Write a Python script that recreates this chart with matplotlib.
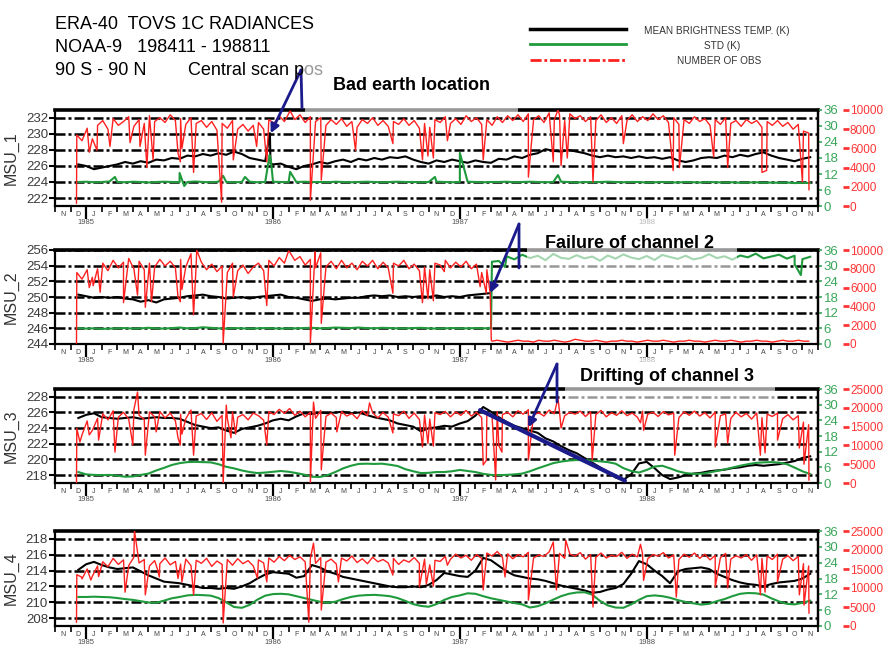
import numpy as np
import matplotlib
matplotlib.use('agg')
import matplotlib.pyplot as plt
from matplotlib.patches import Rectangle
from matplotlib.lines import Line2D

plt.rcParams['font.family'] = ['Liberation Sans', 'DejaVu Sans']

# time axis: months since 1 Nov 1984
MONTH_LETTERS = ['J', 'F', 'M', 'A', 'M', 'J', 'J', 'A', 'S', 'O', 'N', 'D']
YEARS = ['1985', '1986', '1987', '1988']
YEAR_POS = [2, 14, 26, 38]
N_MONTHS = 49

CHANNELS = ['MSU_1', 'MSU_2', 'MSU_3', 'MSU_4']
T_LIMS = [(221, 233), (244, 256), (217, 229), (207, 219)]
T_TICKS = [[222, 224, 226, 228, 230, 232], [244, 246, 248, 250, 252, 254, 256],
           [218, 220, 222, 224, 226, 228], [208, 210, 212, 214, 216, 218]]
STD_TICKS = [0, 6, 12, 18, 24, 30, 36]
OBS_MAX = [10000, 10000, 25000, 25000]
OBS_STEP = [2000, 2000, 5000, 5000]

# mean brightness temperature (K), half-monthly from month 1.5
bt1 = [226.2, 226.0, 225.6, 225.8, 226.0, 226.2, 226.5, 226.3, 226.6, 226.4,
       226.8, 226.7, 227.0, 226.9, 227.3, 227.2, 227.5, 227.3, 227.6, 227.4,
       227.8, 227.5, 227.0, 226.8, 226.6, 226.2, 226.3, 225.9, 225.6, 226.0,
       226.2, 226.5, 226.3, 226.6, 226.8, 226.5, 226.9, 226.7, 227.0, 226.8,
       227.1, 227.0, 227.2, 226.8, 226.5, 226.3, 226.7, 226.5, 226.8, 226.6,
       226.4, 226.7, 226.5, 226.4, 226.9, 226.8, 227.2, 227.0, 227.4, 227.6,
       228.1, 227.9, 227.8, 228.0, 227.8, 227.6, 227.3, 227.1, 227.3, 227.1,
       227.2, 227.0, 227.2, 227.0, 227.1, 226.9, 227.1, 226.7, 226.5, 226.7,
       227.0, 227.1, 227.0, 227.3, 227.1, 227.4, 227.2, 227.5, 227.7, 227.3,
       227.0, 226.8, 226.6, 226.9, 227.1]
bt2 = [250.3, 250.1, 249.9, 250.0, 249.9, 250.0, 249.8, 249.7, 249.4, 249.6,
       249.3, 249.7, 249.8, 249.9, 250.1, 250.2, 250.3, 250.1, 250.0, 249.8,
       249.9, 250.0, 249.8, 250.0, 250.1, 250.2, 250.3, 250.0, 249.9, 249.7,
       249.5, 249.7, 249.8, 249.7, 249.8, 249.9, 249.9, 250.1, 250.2, 250.1,
       250.2, 250.0, 250.1, 250.0, 250.1, 250.0, 250.2, 250.0, 250.1, 250.0,
       250.2, 250.3, 250.4, 250.5]
bt3 = [225.3, 225.7, 225.9, 225.4, 225.3, 225.2, 225.3, 225.4, 225.2, 225.3,
       225.4, 225.3, 225.3, 225.2, 224.8, 224.4, 224.2, 224.0, 224.1, 223.7,
       223.4, 223.9, 224.1, 224.3, 224.6, 225.0, 225.2, 225.0, 225.5, 225.9,
       225.8, 226.0, 225.9, 226.0, 226.1, 225.9, 226.0, 225.7, 225.4, 225.2,
       225.0, 224.6, 224.4, 224.2, 223.6, 224.0, 224.1, 224.3, 224.2, 224.6,
       224.9, 225.6, 226.7, 226.1, 225.4, 224.8, 224.3, 224.0, 223.7, 223.4,
       222.7, 222.3, 221.7, 221.2, 220.8, 220.2, 219.6, 219.0, 218.4, 217.7,
       217.4, 218.1, 219.5, 219.7, 218.9, 218.0, 217.5, 217.7, 218.0, 218.2,
       218.3, 218.5, 218.6, 218.7, 218.9, 219.0, 219.2, 219.3, 219.2, 219.3,
       219.4, 219.6, 219.8, 220.2, 220.4]
bt4 = [214.1, 214.8, 215.1, 214.7, 214.4, 214.2, 214.3, 214.4, 213.9, 213.4,
       213.0, 212.6, 212.5, 212.4, 212.2, 212.0, 211.8, 211.8, 211.7, 211.8,
       211.7, 212.0, 212.4, 213.0, 213.5, 213.8, 213.7, 213.6, 213.1, 213.3,
       214.7, 214.4, 213.9, 213.6, 213.2, 213.0, 212.8, 212.6, 212.4, 212.2,
       212.0, 211.9, 211.9, 212.0, 211.9, 212.2, 212.8, 213.7, 213.5, 213.3,
       213.2, 214.0, 215.6, 215.3, 214.6, 213.9, 213.4, 213.2, 213.0, 212.9,
       212.7, 212.4, 212.1, 211.9, 211.7, 211.5, 211.2, 211.3, 211.6, 211.8,
       212.3, 213.6, 215.2, 214.8, 214.0, 213.3, 212.4, 213.9, 214.2, 214.3,
       214.4, 214.2, 213.6, 213.2, 212.8, 212.5, 212.3, 212.2, 212.0, 212.3,
       212.5, 212.6, 212.7, 213.0, 213.6]

# std (K), half-monthly from month 1.5
std1 = [9.0, 9.1, 8.9, 9.0, 9.2, 9.0, 8.9, 9.1, 9.0, 8.8,
        9.0, 9.1, 9.0, 8.9, 9.0, 9.2, 9.0, 8.9, 9.1, 9.0,
        8.9, 9.0, 9.1, 8.9, 9.0, 9.1, 9.0, 8.9, 9.0, 9.1,
        9.0, 9.0, 8.9, 9.1, 9.0, 8.9, 9.0, 9.1, 9.0, 8.9,
        9.0, 9.1, 9.0, 9.0, 8.9, 9.0, 9.1, 9.0, 8.9, 9.0,
        9.1, 9.0, 8.9, 9.0, 9.0, 9.1, 8.9, 9.0, 9.1, 9.0,
        8.9, 9.0, 9.1, 9.0, 8.8, 9.0, 8.9, 9.0, 9.1, 9.0,
        8.9, 9.0, 9.0, 8.8, 8.9, 9.0, 8.9, 8.8, 9.0, 8.9,
        8.8, 9.0, 8.9, 8.8, 8.9, 8.7, 8.8, 8.9, 8.7, 8.8,
        8.7, 8.8, 8.6, 8.7, 8.6]
std2 = [6.1, 5.9, 6.0, 5.8, 5.9, 6.0, 6.1, 5.9, 6.0, 6.2,
        6.0, 5.9, 6.1, 6.3, 6.0, 6.1, 6.4, 6.2, 6.0, 5.9,
        6.1, 6.0, 5.9, 6.0, 6.1, 6.0, 5.9, 6.0, 6.0, 6.1,
        6.2, 6.0, 6.1, 6.3, 6.2, 6.1, 6.3, 6.1, 6.0, 6.2,
        6.1, 6.0, 6.0, 6.1, 6.2, 6.0, 5.9, 6.0, 6.1, 6.0,
        6.0, 6.1, 6.0, 6.1,
        31.8, 33.6, 32.4, 34.2, 32.9, 33.8, 32.1, 34.5, 33.0, 32.6,
        34.0, 32.8, 33.5, 31.9, 33.9, 32.7, 34.3, 33.1, 32.5, 33.7,
        32.2, 34.1, 33.3, 32.6, 33.8, 32.4, 33.0, 34.4, 32.9, 33.6,
        32.3, 33.9, 33.2, 34.6, 32.8, 33.5, 34.2, 32.7, 33.8, 32.5,
        33.4]
std3 = [4.2, 3.3, 3.1, 3.0, 3.1, 2.8, 2.4, 2.5, 3.1, 3.6,
        4.8, 5.8, 6.9, 7.6, 8.0, 8.1, 8.0, 7.9, 7.2, 6.2,
        5.6, 4.8, 4.2, 3.8, 4.0, 4.3, 4.6, 4.3, 3.8, 3.2,
        2.4, 2.3, 3.0, 4.2, 5.6, 6.6, 7.3, 7.4, 7.3, 7.4,
        7.0, 6.5, 5.3, 4.5, 3.8, 3.9, 4.2, 4.2, 4.5, 5.0,
        4.6, 4.2, 3.5, 3.1, 3.0, 3.1, 3.3, 3.6, 4.5, 5.6,
        6.6, 7.6, 8.2, 8.6, 8.8, 8.7, 8.6, 8.3, 8.0, 7.4,
        5.7, 4.6, 4.0, 5.0, 6.3, 6.6, 5.6, 4.5, 3.8, 3.5,
        3.6, 4.0, 4.6, 5.2, 5.9, 6.6, 7.2, 7.7, 7.9, 8.0,
        7.8, 7.2, 5.9, 4.5, 3.4]
std4 = [11.0, 11.0, 11.1, 11.0, 10.9, 10.6, 10.2, 9.9, 9.4, 8.9,
        8.8, 9.6, 10.5, 11.0, 11.6, 11.8, 11.7, 11.5, 10.6, 9.0,
        7.2, 6.9, 8.0, 10.0, 11.5, 12.1, 12.2, 12.0, 11.3, 10.6,
        9.9, 9.2, 8.8, 9.2, 10.2, 11.0, 11.5, 11.7, 11.8, 11.6,
        11.3, 10.6, 9.5, 8.3, 7.6, 7.3, 8.3, 9.9, 11.0, 11.6,
        12.4, 12.2, 11.3, 10.5, 9.9, 9.3, 8.7, 8.2, 7.0, 7.5,
        8.6, 10.0, 11.3, 12.2, 12.7, 12.8, 11.9, 9.5, 7.8, 7.0,
        6.9, 8.2, 9.9, 11.3, 11.6, 11.3, 10.7, 9.8, 9.1, 8.6,
        8.1, 8.4, 9.4, 10.2, 11.3, 12.2, 12.5, 12.4, 11.9, 10.5,
        9.3, 8.4, 8.2, 8.8, 9.6]

# number of obs (thousands), every third of a month from month 1.4
obs1 = [7.4, 6.8, 8.1, 7.0, 8.4, 8.9, 8.0, 9.1, 8.4, 8.8,
        9.3, 8.3, 9.0, 8.6, 9.4, 8.8, 9.2, 8.7, 9.5, 8.9,
        9.1, 8.5, 9.2, 8.6, 8.9, 8.2, 8.8, 7.9, 8.6, 8.1,
        8.9, 8.0, 8.5, 7.8, 8.4, 8.7, 8.0, 9.0, 8.6, 9.4,
        8.8, 9.8, 9.0, 9.5, 8.7, 9.3, 8.8, 9.2, 8.4, 9.0,
        8.5, 9.1, 8.3, 8.8, 8.2, 9.0, 8.6, 9.2, 8.4, 8.9,
        8.3, 8.8, 8.5, 9.1, 8.4, 8.9, 8.1, 8.6, 8.2, 9.0,
        8.7, 9.3, 8.6, 9.1, 8.5, 9.4, 8.8, 9.2, 8.5, 9.0,
        8.4, 9.3, 8.7, 9.4, 8.9, 9.5, 8.8, 9.6, 9.0, 9.4,
        8.7, 9.7, 9.0, 9.5, 8.9, 9.6, 9.1, 9.4, 8.8, 9.3,
        8.9, 9.5, 8.7, 9.2, 8.6, 9.4, 8.9, 9.5, 8.8, 9.3,
        8.9, 9.6, 9.0, 9.4, 8.7, 9.2, 8.5, 9.0, 8.6, 9.3,
        8.8, 9.1, 8.4, 9.0, 8.5, 9.2, 8.6, 8.9, 8.3, 9.0,
        8.6, 8.9, 8.2, 8.8, 8.4, 8.9, 8.3, 8.7, 8.0, 8.5,
        7.8, 7.6]
obs2 = [7.6, 6.9, 7.9, 7.1, 8.0, 8.6, 7.8, 8.9, 8.1, 8.7,
        9.1, 8.0, 8.8, 7.9, 8.6, 8.2, 9.0, 8.3, 8.8, 8.1,
        9.0, 8.2, 9.6, 8.4, 8.7, 7.9, 8.5, 7.7, 8.3, 7.6,
        8.6, 7.8, 8.4, 7.5, 8.2, 8.6, 7.8, 8.9, 8.3, 9.2,
        8.6, 9.8, 8.9, 9.3, 8.4, 9.0, 8.1, 9.7, 8.2, 8.8,
        8.0, 8.9, 8.1, 8.6, 7.9, 8.8, 8.3, 8.9, 8.0, 8.7,
        8.1, 8.6, 8.3, 8.9, 8.0, 8.5, 7.8, 8.2, 7.9, 8.6,
        8.4, 8.9, 8.1, 8.7, 8.2, 8.8, 8.0, 8.5, 7.6, 7.9,
        0.3, 0.4, 0.3, 0.2, 0.3, 0.4, 0.3, 0.3, 0.2, 0.4,
        0.3, 0.3, 0.4, 0.3, 0.2, 0.3, 0.5, 0.4, 0.3, 0.3,
        0.4, 0.3, 0.2, 0.3, 0.3, 0.4, 0.3, 0.3, 0.2, 0.3,
        0.4, 0.3, 0.3, 0.4, 0.3, 0.2, 0.3, 0.3, 0.4, 0.3,
        0.3, 0.2, 0.3, 0.4, 0.3, 0.3, 0.4, 0.3, 0.2, 0.3,
        0.3, 0.4, 0.3, 0.3, 0.2, 0.3, 0.4, 0.3, 0.3, 0.4,
        0.3, 0.3]
obs3 = [14.5, 12.8, 16.5, 14.0, 17.2, 18.4, 16.8, 19.2, 17.5, 18.8,
        17.0, 19.5, 18.0, 16.9, 18.9, 17.6, 19.0, 17.3, 18.6, 16.5,
        18.3, 17.1, 19.4, 17.8, 18.5, 16.9, 18.7, 16.4, 18.0, 17.2,
        18.9, 17.5, 18.2, 16.8, 18.6, 17.9, 16.7, 19.0, 18.2, 19.6,
        18.5, 19.8, 18.0, 19.1, 17.6, 18.8, 17.2, 19.3, 17.7, 18.6,
        17.4, 19.0, 17.8, 18.5, 17.1, 19.2, 17.9, 18.7, 17.3, 18.8,
        17.5, 18.4, 17.9, 19.1, 17.2, 18.6, 16.9, 18.1, 17.0, 18.7,
        18.2, 19.0, 17.6, 18.9, 18.0, 19.3, 17.8, 18.8, 17.4, 18.4,
        17.9, 19.0, 18.2, 18.8, 17.6, 19.2, 18.3, 19.5, 18.1, 18.7,
        17.8, 19.4, 18.4, 19.0, 17.9, 18.8, 18.3, 19.1, 17.7, 18.9,
        18.2, 19.3, 17.6, 18.7, 18.0, 19.2, 17.9, 18.6, 17.5, 19.1,
        18.3, 18.8, 17.7, 19.0, 18.1, 18.6, 17.4, 18.9, 18.0, 19.1,
        17.8, 18.7, 17.3, 18.9, 17.9, 18.4, 17.2, 18.8, 17.6, 18.5,
        17.0, 18.6, 17.4, 18.3, 17.7, 18.6, 17.1, 18.2, 16.8, 17.9,
        16.2, 15.5]
obs4 = [13.5, 12.4, 15.0, 13.1, 15.8, 16.9, 15.6, 17.8, 16.2, 17.4,
        15.9, 18.1, 16.6, 17.5, 15.8, 17.2, 16.4, 17.9, 16.1, 17.0,
        16.3, 17.6, 15.9, 17.3, 16.5, 17.8, 15.7, 17.1, 16.2, 17.5,
        16.0, 17.7, 16.4, 17.2, 15.8, 17.4, 16.6, 17.9, 16.8, 18.3,
        17.2, 18.6, 17.5, 18.2, 16.9, 17.8, 16.5, 18.0, 16.8, 17.6,
        16.3, 17.9, 17.1, 18.4, 16.7, 17.7, 16.4, 18.1, 16.9, 17.5,
        16.6, 17.8, 16.2, 17.4, 16.8, 18.0, 16.5, 17.6, 16.1, 17.3,
        17.0, 18.3, 17.6, 18.9, 17.9, 18.6, 17.3, 18.8, 17.8, 19.2,
        18.4, 19.6, 18.1, 19.0, 17.7, 18.8, 18.2, 19.4, 17.9, 18.7,
        18.3, 19.5, 18.0, 19.1, 17.8, 18.9, 18.4, 19.3, 17.6, 18.8,
        18.1, 19.2, 17.9, 18.6, 18.3, 19.4, 17.8, 18.9, 18.2, 19.0,
        17.7, 18.8, 18.4, 19.3, 17.9, 18.7, 17.5, 18.9, 18.1, 19.2,
        17.8, 18.9, 17.4, 18.6, 18.0, 19.1, 17.6, 18.5, 17.9, 18.8,
        17.3, 18.7, 17.8, 18.4, 17.5, 18.9, 17.6, 18.5, 17.2, 18.3,
        16.4, 15.8]

# single-day events (month, value): data gaps, glitches, failure
bt1_evt_m = [13.80, 13.84]
bt1_evt_v = [230.1, 226.3]
std1_evt_m = [3.85, 8.0, 8.3, 10.8, 12.2, 13.78, 13.86, 15.1, 24.4, 26.0, 32.3]
std1_evt_v = [10.9, 12.4, 7.5, 11.3, 10.9, 19.1, 17.5, 12.8, 10.9, 19.9, 11.6]
std2_evt_m = [28.06, 28.9, 47.5, 47.9]
std2_evt_v = [31.5, 29.5, 30.5, 26.4]
obs1_evt_m = [1.38, 2.2, 2.7, 3.53, 4.82, 5.46, 5.9, 6.3, 7.9, 8.05,
              8.15, 8.9, 10.7, 11.45, 12.95, 13.6, 15.1, 16.4, 17.1, 19.3,
              21.7, 23.6, 23.95, 24.3, 25.2, 27.5, 30.4, 32.0, 32.3, 32.5,
              32.9, 34.55, 36.5, 39.7, 40.1, 42.3, 43.2, 45.4, 45.7, 48.0, 48.42]
obs1_evt_v = [0.3, 5.6, 5.8, 6.2, 6.6, 6.2, 4.0, 4.8, 5.5, 4.6,
              6.0, 3.5, 0.4, 4.8, 6.2, 4.6, 9.9, 0.6, 2.7, 5.8,
              6.5, 4.8, 5.2, 5.0, 6.8, 4.8, 3.0, 4.6, 10.0, 4.2,
              5.0, 2.5, 6.5, 3.7, 4.0, 5.1, 4.0, 3.5, 3.7, 2.5, 1.7]
obs2_evt_m = [1.38, 2.2, 2.45, 2.9, 4.4, 5.3, 5.8, 6.2, 7.9, 8.05,
              8.15, 8.9, 9.1, 10.8, 11.45, 13.6, 15.0, 16.4, 16.7, 17.1,
              21.7, 23.6, 23.95, 24.3, 25.0, 27.3, 27.7, 27.95, 28.02]
obs2_evt_v = [0.1, 6.0, 6.2, 5.5, 4.4, 5.2, 3.9, 4.5, 5.0, 4.5,
              5.8, 3.1, 10.0, 0.1, 5.0, 4.1, 9.9, 0.1, 9.8, 2.2,
              5.4, 4.4, 4.8, 4.6, 7.7, 6.1, 5.4, 5.4, 0.4]
obs3_evt_m = [1.38, 1.6, 2.2, 2.8, 3.85, 5.0, 5.3, 5.8, 6.5, 7.9,
              8.05, 8.15, 8.9, 10.8, 11.0, 11.3, 11.6, 13.6, 16.4, 16.6,
              17.1, 18.1, 20.2, 21.7, 23.6, 23.95, 24.3, 27.5, 27.7, 28.3,
              28.5, 28.7, 30.4, 32.3, 32.5, 34.5, 37.6, 37.8, 39.8, 42.4,
              43.2, 45.3, 45.6, 46.4, 47.8, 48.1, 48.42]
obs3_evt_v = [0.0, 10.9, 12.8, 11.4, 8.2, 10.1, 24.2, 7.4, 13.6, 12.0,
              10.1, 13.0, 7.4, 0.0, 20.7, 12.0, 13.0, 10.1, 0.0, 21.5,
              3.5, 13.6, 21.3, 13.3, 9.6, 10.5, 9.8, 4.8, 6.0, 0.8,
              10.0, 8.2, 6.1, 22.6, 14.6, 6.1, 16.0, 14.0, 7.4, 9.6,
              10.6, 7.4, 8.0, 11.4, 9.3, 5.0, 0.8]
obs4_evt_m = [1.38, 1.7, 2.3, 2.8, 4.5, 5.1, 5.8, 6.6, 6.7, 7.9,
              8.15, 8.9, 10.8, 13.0, 13.6, 16.3, 16.6, 17.1, 18.2, 21.7,
              23.4, 23.85, 24.3, 25.2, 27.5, 28.9, 30.4, 32.0, 32.2, 32.8,
              34.55, 37.6, 37.8, 39.9, 42.4, 43.2, 45.3, 45.6, 46.4, 47.8,
              48.1, 48.42]
obs4_evt_v = [1.0, 12.9, 12.1, 13.0, 8.9, 25.2, 8.2, 14.7, 12.9, 12.5,
              11.6, 8.2, 0.8, 12.6, 11.6, 1.0, 21.8, 4.2, 11.6, 13.4,
              10.3, 11.0, 10.5, 16.0, 9.5, 12.9, 6.8, 22.1, 9.5, 22.6,
              5.0, 21.5, 12.0, 7.6, 10.3, 10.0, 8.2, 8.9, 11.6, 8.2,
              5.5, 3.4]

# annotations (pixel positions of text/apex, data coords of arrow tips)
NOTES = ['Bad earth location', 'Failure of channel 2', 'Drifting of channel 3']
NOTE_TEXT_PX = [(333, 90), (545, 248), (580, 381)]
NOTE_APEX_PX = [(301, 70), (519, 224), (557, 364)]
NOTE_STUB_PX = [(302, 108), (519, 268), (557, 402)]
NOTE_TIP = [(13.85, 230.1), (27.95, 250.5), (30.4, 224.1)]
NOTE_BOX_PX = [(305, 60, 518, 112), (527, 218, 737, 268), (565, 358, 775, 401)]
DRIFT_M = [27.3, 36.6]
DRIFT_T = [226.3, 217.3]

W, H = 885, 648
PANEL_TOP = [110, 250, 389, 531]
PANEL_BOT = [206, 344, 483, 626]
AX_L, AX_R = 55, 818

BLACK = 'black'
GREEN = '#1f9a3c'
RED = '#ff2020'
NAVY = '#1b1b8c'
GREEN_TXT = '#3aa65a'
RED_TXT = '#ff3535'


def fx(px):
    return px / W


def fy(py):
    return 1 - py / H


def merged(t, v, t_evt, v_evt):
    t_all = np.concatenate([t, t_evt])
    v_all = np.concatenate([v, v_evt])
    order = np.argsort(t_all, kind='stable')
    return t_all[order], v_all[order]


def half_month(vals):
    return 1.5 + 0.5 * np.arange(len(vals))


def third_month(vals):
    return 1.4 + np.arange(len(vals)) / 3.0


bts = [bt1, bt2, bt3, bt4]
stds = [std1, std2, std3, std4]
obss = [obs1, obs2, obs3, obs4]
bt_evts = [(bt1_evt_m, bt1_evt_v), ([], []), ([], []), ([], [])]
std_evts = [(std1_evt_m, std1_evt_v), (std2_evt_m, std2_evt_v), ([], []), ([], [])]
obs_evts = [(obs1_evt_m, obs1_evt_v), (obs2_evt_m, obs2_evt_v),
            (obs3_evt_m, obs3_evt_v), (obs4_evt_m, obs4_evt_v)]

fig = plt.figure(figsize=(W / 100, H / 100), dpi=100)

axes = []
for i in range(4):
    ax = fig.add_axes([fx(AX_L), fy(PANEL_BOT[i]), (AX_R - AX_L) / W,
                       (PANEL_BOT[i] - PANEL_TOP[i]) / H])
    ax.set_xlim(0, N_MONTHS)
    ax.set_ylim(*T_LIMS[i])
    ax.set_yticks(T_TICKS[i])
    ax.grid(axis='y', color='black', lw=1.8, linestyle=(0, (4, 1.2, 1.2, 1.2)))

    t, v = merged(half_month(bts[i]), bts[i], *bt_evts[i])
    ax.plot(t, v, color=BLACK, lw=1.5)

    axg = ax.twinx()
    t, v = merged(half_month(stds[i]), stds[i], *std_evts[i])
    axg.plot(t, v, color=GREEN, lw=1.5)
    axg.set_ylim(0, 36)
    axg.set_yticks(STD_TICKS)

    axr = ax.twinx()
    t, v = merged(third_month(obss[i]), obss[i], *obs_evts[i])
    axr.plot(t, v * 1000, color=RED, lw=1.0)
    axr.set_ylim(0, OBS_MAX[i])
    axr.set_yticks(np.arange(0, OBS_MAX[i] + 1, OBS_STEP[i]))
    axr.spines['right'].set_position(('outward', 18))
    for s in axr.spines.values():
        s.set_visible(False)
    for s in ['top', 'left', 'bottom']:
        axg.spines[s].set_visible(False)
    axg.spines['right'].set_linewidth(1.6)

    for s in ax.spines.values():
        s.set_linewidth(1.6)
    ax.spines['top'].set_linewidth(2.6)

    ax.tick_params(axis='y', direction='out', length=4, width=1.5, labelsize=9.5,
                   labelcolor='#3a3a3a', pad=1)
    axg.tick_params(axis='y', color=GREEN_TXT, labelcolor=GREEN_TXT, length=3,
                    width=1.2, labelsize=9.5, pad=1)
    axr.tick_params(axis='y', color=RED_TXT, labelcolor=RED_TXT, length=4,
                    width=2, labelsize=8.5, pad=1)

    # month ticks, year labels and month letters
    ax.set_xticks(YEAR_POS, YEARS)
    ax.set_xticks(np.arange(0, N_MONTHS + 1), minor=True)
    ax.tick_params(axis='x', which='major', length=9, width=1.6, labelsize=5.5,
                   labelcolor='#505050', pad=0.5)
    ax.tick_params(axis='x', which='minor', length=4, width=1.2)
    sec = ax.secondary_xaxis('bottom')
    sec.set_xticks(np.arange(N_MONTHS) + 0.5,
                   [MONTH_LETTERS[(10 + m) % 12] for m in range(N_MONTHS)])
    sec.tick_params(length=0, pad=3.5, labelsize=5, labelcolor='#444444')
    sec.spines['bottom'].set_visible(False)

    ax.set_ylabel(CHANNELS[i], fontsize=11.5, color='#333333')
    ax.yaxis.set_label_coords(-0.048, 0.5)
    axes.append((ax, axg, axr))

# annotations
for j in range(3):
    ax, axg, axr = axes[j]
    apex = (fx(NOTE_APEX_PX[j][0]), fy(NOTE_APEX_PX[j][1]))
    axr.annotate('', xy=NOTE_TIP[j], xycoords=ax.transData, xytext=apex,
                 textcoords='figure fraction', annotation_clip=False,
                 arrowprops=dict(arrowstyle='-|>,head_length=0.5,head_width=0.25',
                                 color=NAVY, lw=2, shrinkA=0, shrinkB=0))
    axr.annotate('', xy=(fx(NOTE_STUB_PX[j][0]), fy(NOTE_STUB_PX[j][1])),
                 xycoords='figure fraction', xytext=apex,
                 textcoords='figure fraction', annotation_clip=False,
                 arrowprops=dict(arrowstyle='-', color=NAVY, lw=2,
                                 shrinkA=0, shrinkB=0))
    x0, y0, x1, y1 = NOTE_BOX_PX[j]
    fig.add_artist(Rectangle((fx(x0), fy(y1)), (x1 - x0) / W, (y1 - y0) / H,
                             transform=fig.transFigure, facecolor='white',
                             edgecolor='none', alpha=0.6, zorder=5))
    fig.text(fx(NOTE_TEXT_PX[j][0]), fy(NOTE_TEXT_PX[j][1]), NOTES[j],
             fontsize=13, fontweight='bold', va='baseline', zorder=6)

ax3, axg3, axr3 = axes[2]
axr3.annotate('', xy=(DRIFT_M[1], DRIFT_T[1]), xycoords=ax3.transData,
              xytext=(DRIFT_M[0], DRIFT_T[0]), textcoords=ax3.transData,
              arrowprops=dict(arrowstyle='-', color=NAVY, lw=3,
                              shrinkA=0, shrinkB=0))

# header
fig.text(fx(55), fy(29), 'ERA-40  TOVS 1C RADIANCES', fontsize=13, va='baseline')
fig.text(fx(55), fy(52), 'NOAA-9   198411 - 198811', fontsize=13, va='baseline')
fig.text(fx(55), fy(75), '90 S - 90 N', fontsize=13, va='baseline')
fig.text(fx(188), fy(75), 'Central scan pos', fontsize=13, va='baseline')

# legend
LEGEND_LABELS = ['MEAN BRIGHTNESS TEMP. (K)', 'STD (K)', 'NUMBER OF OBS']
legend_styles = [dict(color=BLACK, lw=2.5), dict(color=GREEN, lw=2),
                 dict(color=RED, lw=2, linestyle=(0, (4, 1, 1, 1)))]
for k, (lab, y_line, y_txt, x_txt) in enumerate(zip(LEGEND_LABELS, [29, 44, 60],
                                                    [31, 46, 61], [717, 722, 719])):
    fig.add_artist(Line2D([fx(530), fx(626)], [fy(y_line), fy(y_line)],
                          transform=fig.transFigure, **legend_styles[k]))
    fig.text(fx(x_txt), fy(y_txt), lab, fontsize=7.2, color='#333333',
             ha='center', va='center')

fig.savefig('out.png', dpi=100)
